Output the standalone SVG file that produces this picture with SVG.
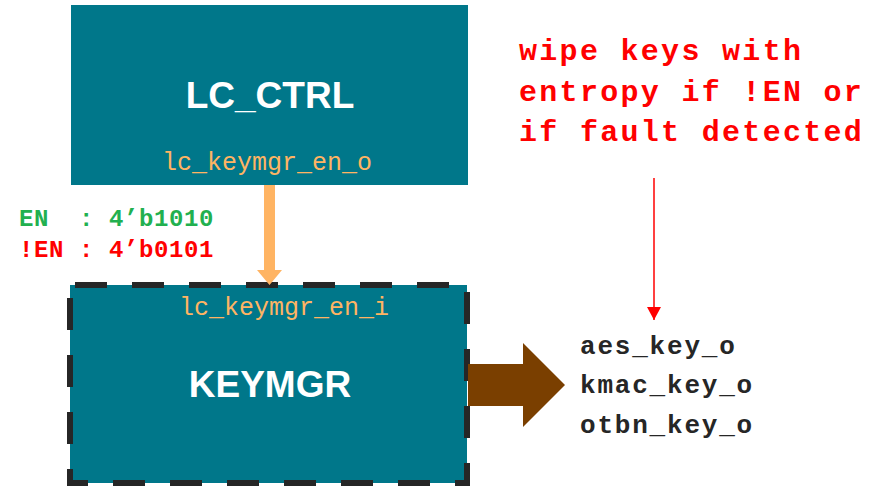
<svg xmlns="http://www.w3.org/2000/svg" width="889" height="488" viewBox="0 0 889 488">
  <style>
    .block { fill: #00778A; }
    .title { font-family: "Liberation Sans", Arial, sans-serif; font-weight: bold; font-size: 37px; fill: #FFFFFF; text-anchor: middle; }
    .port { font-family: "Liberation Mono", "Courier New", monospace; font-size: 25px; fill: #FFB463; }
    .mono { font-family: "Liberation Mono", "Courier New", monospace; font-weight: bold; }
    .note { font-size: 30px; fill: #FF0000; letter-spacing: 2.3px; }
    .en { font-size: 24px; letter-spacing: 0.6px; }
    .key { font-size: 26px; fill: #262626; letter-spacing: 1.8px; }
  </style>
  <defs>
    <marker id="redHead" markerWidth="14" markerHeight="14" refX="13" refY="7" orient="auto" markerUnits="userSpaceOnUse" viewBox="0 0 14 14">
      <path d="M0,0 L13,7 L0,14 Z" fill="#FF0000"/>
    </marker>
  </defs>

  <!-- Life cycle controller block -->
  <g id="lc_ctrl">
    <rect class="block" x="71" y="5" width="397" height="180"/>
    <text class="title" x="270" y="108">LC_CTRL</text>
    <text class="port" x="162" y="170">lc_keymgr_en_o</text>
  </g>

  <!-- Key manager block -->
  <g id="keymgr">
    <rect class="block" x="70" y="285" width="397" height="198"/>
    <rect x="70" y="285" width="397" height="198" fill="none" stroke="#262626" stroke-width="6" stroke-dasharray="32 25" stroke-dashoffset="-5"/>
    <text class="port" x="179" y="315">lc_keymgr_en_i</text>
    <text class="title" x="270" y="397">KEYMGR</text>
  </g>

  <!-- Enable encoding legend -->
  <g id="legend" class="mono en">
    <text x="19" y="226" fill="#22B04F" xml:space="preserve">EN  : 4’b1010</text>
    <text x="19" y="257" fill="#FF0000" xml:space="preserve">!EN : 4’b0101</text>
  </g>

  <!-- Wipe note -->
  <g id="note" class="mono note">
    <text x="519" y="60">wipe keys with</text>
    <text x="519" y="101">entropy if !EN or</text>
    <text x="519" y="141">if fault detected</text>
  </g>

  <!-- Key outputs -->
  <g id="keys" class="mono key">
    <text x="580" y="354">aes_key_o</text>
    <text x="580" y="393">kmac_key_o</text>
    <text x="580" y="433">otbn_key_o</text>
  </g>

  <g id="connectors">
    <!-- enable signal from LC_CTRL into KEYMGR -->
    <path d="M264,185 L275,185 L275,270 L282,270 L269.5,285 L257,270 L264,270 Z" fill="#FFB463"/>
    <!-- key outputs -->
    <path d="M468,364 L523,364 L523,343 L565,385 L523,427 L523,406 L468,406 Z" fill="#7A3F00"/>
    <!-- wipe request -->
    <line x1="654" y1="178" x2="654" y2="320" stroke="#FF0000" stroke-width="1.5" marker-end="url(#redHead)"/>
  </g>
</svg>
